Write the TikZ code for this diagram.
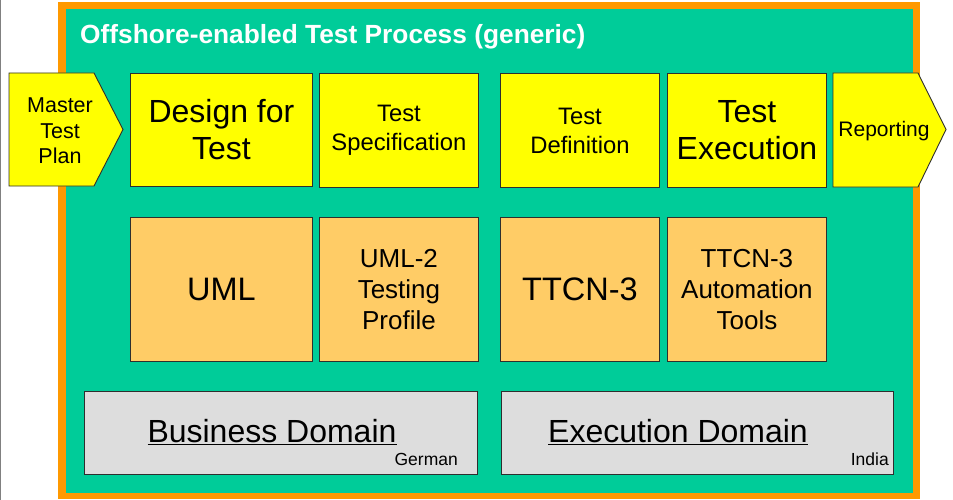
\documentclass[tikz,border=0pt]{standalone}
\usepackage{fontspec}
\setmainfont{Liberation Sans}
\definecolor{frameorange}{HTML}{FF9900}
\definecolor{bggreen}{HTML}{00CC99}
\definecolor{boxyellow}{HTML}{FFFF00}
\definecolor{boxorange}{HTML}{FFCC66}
\definecolor{boxgray}{HTML}{DDDDDD}
\definecolor{edgegray}{HTML}{2E2E2E}
\newcommand{\myfs}[2]{\fontsize{#1}{#2}\selectfont}
\begin{document}
\begin{tikzpicture}[x=1pt,y=-1pt,
  box/.style={draw=edgegray,line width=0.9pt,anchor=north west,inner sep=0pt,align=center},
  stepyellow/.style={box,fill=boxyellow},
  techbox/.style={box,fill=boxorange,minimum height=144pt},
  domainbox/.style={box,fill=boxgray,minimum height=83pt},
  arrowshape/.style={draw=edgegray,line width=0.9pt,fill=boxyellow},
  plain/.style={inner sep=0pt,align=center}]
\useasboundingbox (0,0) rectangle (953,500);
\fill[white] (0,0) rectangle (953,500);
\draw[gray,line width=1pt] (0.5,0) -- (0.5,500);
% frame
\node[fill=frameorange,anchor=north west,inner sep=0pt,minimum width=862pt,minimum height=497pt] (frame) at (58,2) {};
\node[fill=bggreen,anchor=north west,inner sep=0pt,minimum width=847pt,minimum height=484pt] (panel) at (66,9) {};
\node[plain,anchor=base west,text=white,font=\bfseries\myfs{26.3}{30}] (title) at (80,44) {Offshore-enabled Test Process (generic)};
% chevrons
\draw[arrowshape] (9,73) -- (94,73) -- (123,129.5) -- (94,186) -- (9,186) -- cycle;
\node[plain,font=\myfs{21.5}{25.5}] (master) at (60,131) {Master\\Test\\Plan};
\draw[arrowshape] (833,73) -- (918,73) -- (946,129.5) -- (918,187) -- (833,187) -- cycle;
\node[plain,font=\myfs{21}{25.5}] (reporting) at (884,131) {Reporting};
% process steps
\node[stepyellow,minimum width=182pt,minimum height=113pt,font=\myfs{32}{37}] (design) at (130,73) {Design for\\Test};
\node[stepyellow,minimum width=159pt,minimum height=114pt,font=\myfs{23.8}{29}] (spec) at (319,73) {Test\\Specification};
\node[stepyellow,minimum width=159pt,minimum height=114pt,font=\myfs{23.8}{29}] (definition) at (500,73) {Test\\Definition};
\node[stepyellow,minimum width=159pt,minimum height=114pt,font=\myfs{32}{37}] (execution) at (667,73) {Test\\Execution};
% technologies
\node[techbox,minimum width=182pt,font=\myfs{32.5}{37}] (uml) at (130,217) {UML};
\node[techbox,minimum width=159pt,font=\myfs{26}{31}] (umltp) at (319,217) {UML-2\\Testing\\Profile};
\node[techbox,minimum width=159pt,font=\myfs{32.5}{37}] (ttcn) at (500,217) {TTCN-3};
\node[techbox,minimum width=159pt,font=\myfs{26}{31}] (ttcntools) at (667,217) {TTCN-3\\Automation\\Tools};
% domains
\node[domainbox,minimum width=393pt] (business) at (84,391) {};
\node[plain,anchor=base,font=\myfs{32}{36}] (businesslabel) at (272,442) {\underline{Business Domain}};
\node[plain,anchor=base east,font=\myfs{17.5}{20}] (german) at (458,465) {German};
\node[domainbox,minimum width=392pt] (execdomain) at (501,391) {};
\node[plain,anchor=base,font=\myfs{32}{36}] (execlabel) at (678,442) {\underline{Execution Domain}};
\node[plain,anchor=base east,font=\myfs{17.5}{20}] (india) at (889,465) {India};
\end{tikzpicture}
\end{document}
